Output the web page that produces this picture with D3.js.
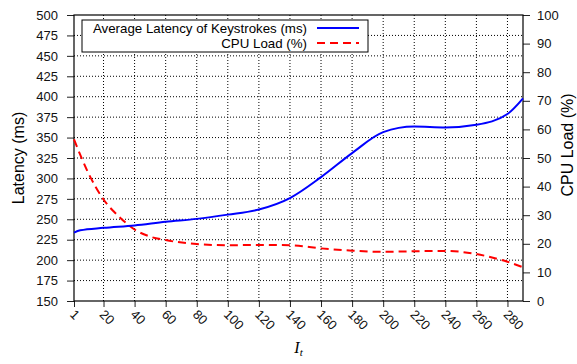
<!DOCTYPE html>
<html>
<head>
<meta charset="utf-8">
<script src="https://cdn.jsdelivr.net/npm/d3@7"></script>
<style>
  body { margin: 0; background: #fff; }
  text { font-family: "Liberation Sans", Arial, sans-serif; }
</style>
</head>
<body>
<div id="chart"><svg width="577" height="364"></svg></div>
<script>
// values
const xTicks = [1, 20, 40, 60, 80, 100, 120, 140, 160, 180, 200, 220, 240, 260, 280];
const latencyTicks = [150, 175, 200, 225, 250, 275, 300, 325, 350, 375, 400, 425, 450, 475, 500];
const cpuTicks = [0, 10, 20, 30, 40, 50, 60, 70, 80, 90, 100];

const latencyX = [1, 5, 20, 40, 60, 80, 100, 120, 140, 160, 180, 200, 220, 240, 260, 280, 290];
const latencyY = [233.6, 236.5, 239.5, 242.5, 247, 250.5, 255.7, 262, 276, 301.6, 331, 356.7, 363.5, 362.4, 365.7, 378.8, 398];

const cpuX = [1, 10, 20, 30, 40, 50, 60, 80, 100, 120, 140, 160, 180, 200, 220, 240, 260, 280, 290];
const cpuY = [56.5, 45, 35.5, 29.5, 25, 22.5, 21.3, 19.9, 19.5, 19.6, 19.5, 18.4, 17.6, 17.2, 17.4, 17.5, 16.4, 13.7, 11.8];

const seriesNames = ["Average Latency of Keystrokes (ms)", "CPU Load (%)"];

const margin = { top: 15, right: 54, bottom: 63, left: 74 },
  width = 577 - margin.left - margin.right,
  height = 364 - margin.top - margin.bottom;

const svg = d3
  .select("#chart svg")
  .append("g")
  .attr("transform", `translate(${margin.left},${margin.top})`);

const x = d3.scaleLinear().domain([1, 290]).range([0, width]);
const yL = d3.scaleLinear().domain([150, 500]).range([height, 0]);
const yR = d3.scaleLinear().domain([0, 100]).range([height, 0]);

// grid
svg
  .append("g")
  .selectAll("line")
  .data(xTicks.slice(1))
  .enter()
  .append("line")
  .attr("x1", (d) => x(d))
  .attr("x2", (d) => x(d))
  .attr("y1", 0)
  .attr("y2", height)
  .style("stroke", "#000")
  .style("stroke-width", 1)
  .style("stroke-dasharray", "1,2");

svg
  .append("g")
  .selectAll("line")
  .data(latencyTicks.slice(1, -1))
  .enter()
  .append("line")
  .attr("x1", 0)
  .attr("x2", width)
  .attr("y1", (d) => yL(d))
  .attr("y2", (d) => yL(d))
  .style("stroke", "#000")
  .style("stroke-width", 1)
  .style("stroke-dasharray", "1,2");

// axes
const xAxis = svg
  .append("g")
  .attr("transform", `translate(0,${height})`)
  .call(d3.axisBottom(x).tickValues(xTicks).tickSize(6).tickSizeOuter(0).tickFormat(d3.format("d")));
xAxis
  .selectAll("text")
  .attr("x", 0)
  .attr("y", 0)
  .attr("dy", "0.35em")
  .attr("text-anchor", "start")
  .attr("transform", "translate(-2,11) rotate(45)");

const yAxisL = svg.append("g").call(d3.axisLeft(yL).tickValues(latencyTicks).tickSize(7).tickSizeOuter(0));
const yAxisR = svg
  .append("g")
  .attr("transform", `translate(${width},0)`)
  .call(d3.axisRight(yR).tickValues(cpuTicks).tickSize(7).tickSizeOuter(0));

[xAxis, yAxisL, yAxisR].forEach((g) => {
  g.selectAll("text").style("font-size", "13px").style("fill", "#111");
  g.selectAll("line").style("stroke", "#222");
  g.select(".domain").remove();
});
yAxisL.selectAll("text").attr("x", -16);
yAxisR.selectAll("text").attr("x", 14);

// border
svg
  .append("rect")
  .attr("width", width)
  .attr("height", height)
  .style("fill", "none")
  .style("stroke", "#000")
  .style("stroke-width", 1.2);

// lines
const lineL = d3
  .line()
  .x((d) => x(d[0]))
  .y((d) => yL(d[1]))
  .curve(d3.curveMonotoneX);
const lineR = d3
  .line()
  .x((d) => x(d[0]))
  .y((d) => yR(d[1]))
  .curve(d3.curveMonotoneX);

svg
  .append("path")
  .datum(d3.zip(cpuX, cpuY))
  .attr("d", lineR)
  .style("fill", "none")
  .style("stroke", "#ff0000")
  .style("stroke-width", 2)
  .style("stroke-dasharray", "8,5");

svg
  .append("path")
  .datum(d3.zip(latencyX, latencyY))
  .attr("d", lineL)
  .style("fill", "none")
  .style("stroke", "#0000ff")
  .style("stroke-width", 2);

// axis titles
svg
  .append("text")
  .attr("transform", "rotate(-90)")
  .attr("x", -height / 2)
  .attr("y", -50)
  .style("text-anchor", "middle")
  .style("font-size", "16px")
  .text("Latency (ms)");

svg
  .append("text")
  .attr("transform", "rotate(-90)")
  .attr("x", -height / 2 + 13)
  .attr("y", width + 50)
  .style("text-anchor", "middle")
  .style("font-size", "16px")
  .text("CPU Load (%)");

const xt = svg
  .append("text")
  .attr("x", width / 2)
  .attr("y", height + 52)
  .style("text-anchor", "middle")
  .style("font-family", "'Liberation Serif', serif")
  .style("font-style", "italic")
  .style("font-size", "16px");
xt.append("tspan").text("I");
xt.append("tspan").attr("dy", "3").style("font-size", "11px").text("t");

// legend
const legend = svg.append("g").attr("transform", "translate(8,5)");
legend
  .append("rect")
  .attr("width", 286)
  .attr("height", 32)
  .style("fill", "#fff")
  .style("stroke", "#000")
  .style("stroke-width", 1);

const color = ["#0000ff", "#ff0000"];
const dash = ["none", "8,5"];
const item = legend
  .selectAll(".legend")
  .data(seriesNames)
  .enter()
  .append("g")
  .attr("class", "legend")
  .attr("transform", (d, i) => `translate(0,${8 + i * 15})`);
item
  .append("text")
  .attr("x", 225)
  .attr("y", 0)
  .attr("dy", ".35em")
  .style("text-anchor", "end")
  .style("font-size", "13.3px")
  .text((d) => d);
item
  .append("line")
  .attr("x1", 235)
  .attr("x2", 277)
  .style("stroke", (d, i) => color[i])
  .style("stroke-width", 2)
  .style("stroke-dasharray", (d, i) => dash[i]);
</script>
</body>
</html>
